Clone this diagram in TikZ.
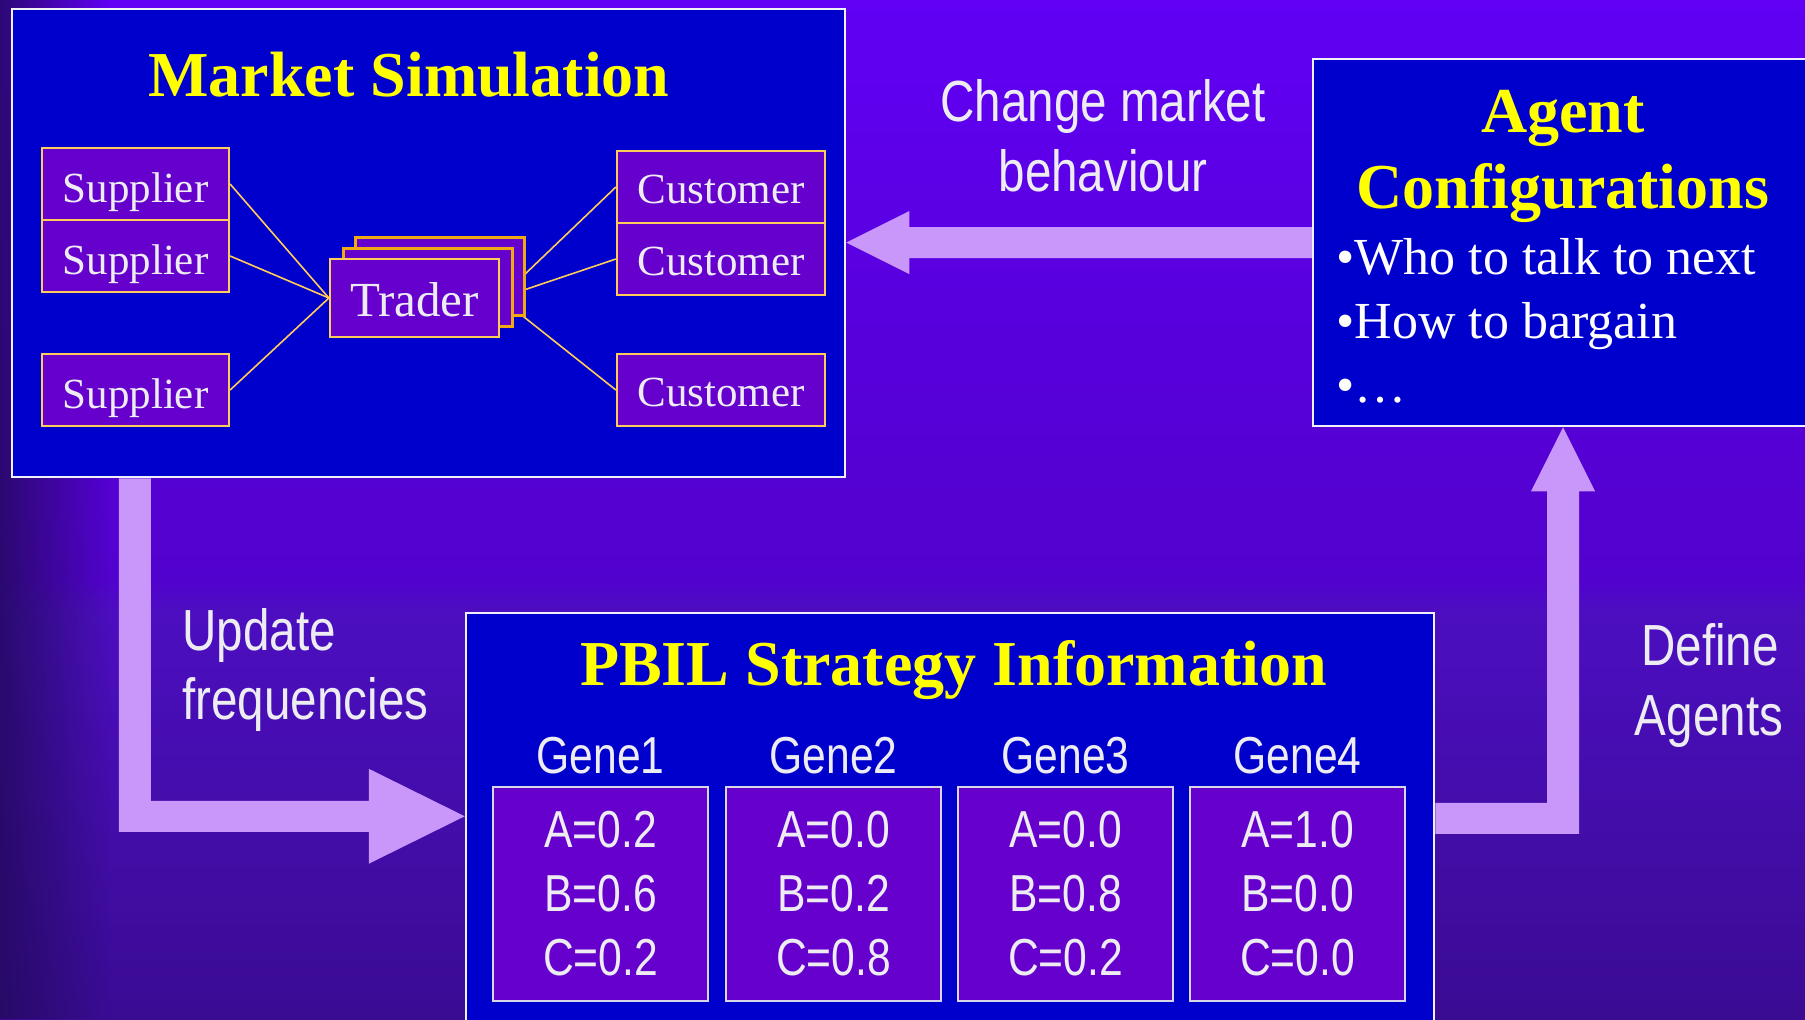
\documentclass[tikz,border=0pt]{standalone}
\usepackage{fontspec}
\setmainfont{Liberation Serif}
\newfontfamily\sansn[FakeStretch=0.82]{Liberation Sans}
\usetikzlibrary{calc,fadings}
\definecolor{boxblue}{RGB}{0,0,204}
\definecolor{inpurple}{RGB}{102,0,204}
\definecolor{gold}{RGB}{255,204,90}
\definecolor{goldd}{RGB}{240,168,20}
\definecolor{boxline}{RGB}{240,240,250}
\definecolor{genel}{RGB}{215,215,232}
\definecolor{txtgray}{RGB}{236,236,242}
\definecolor{arrowc}{RGB}{201,150,250}
\definecolor{titley}{RGB}{255,255,0}
\definecolor{stripc}{RGB}{36,10,96}
\definecolor{bg0}{RGB}{36,10,95}
\definecolor{bg1}{RGB}{46,10,118}
\definecolor{bg2}{RGB}{58,12,148}
\definecolor{bg3}{RGB}{76,14,192}
\definecolor{bg4}{RGB}{82,2,205}
\definecolor{bg5}{RGB}{88,0,220}
\definecolor{bg6}{RGB}{97,0,245}
\definecolor{bg7}{RGB}{102,0,255}
\pgfdeclareverticalshading{bgshade}{100bp}{color(0bp)=(bg0); color(13.6bp)=(bg1); color(25.4bp)=(bg2); color(45bp)=(bg3); color(46.5bp)=(bg4); color(58.8bp)=(bg5); color(75.5bp)=(bg6); color(100bp)=(bg7)}
\tikzfading[name=fadeRight, left color=transparent!15, right color=transparent!100]
\pgfdeclarelayer{background}
\pgfdeclarelayer{lines}
\pgfsetlayers{background,lines,main}
\tikzset{
  bigbox/.style={draw=boxline, line width=1.25pt, fill=boxblue, inner sep=0pt, rectangle},
  goldbox/.style={draw=gold, line width=1.1pt, fill=inpurple, inner sep=0pt, text=txtgray,
    font=\fontsize{21.5}{26}\selectfont, minimum height=36pt, text depth=0pt},
  supbox/.style={goldbox, minimum width=93.5pt, text height=18pt},
  custbox/.style={goldbox, minimum width=104pt, text height=16pt},
  trbox/.style={goldbox, minimum width=84.5pt, minimum height=39pt, font=\fontsize{24.5}{29}\selectfont},
  genebox/.style={draw=genel, line width=1pt, fill=inpurple, inner sep=0pt, align=center, text=txtgray,
    font=\sansn\fontsize{26}{32}\selectfont, minimum width=107.5pt, minimum height=107pt},
  genelbl/.style={font=\sansn\fontsize{26}{32}\selectfont, text=txtgray, anchor=base, inner sep=0pt},
  titlet/.style={font=\bfseries\fontsize{32}{38}\selectfont, text=titley, anchor=base, inner sep=0pt},
  sanslbl/.style={font=\sansn\fontsize{29}{35}\selectfont, text=txtgray, anchor=base, inner sep=0pt},
  bullett/.style={font=\fontsize{26}{32}\selectfont, text=white, anchor=base west, inner sep=0pt},
  conn/.style={draw=gold, line width=0.8pt},
  blockarrow/.style={fill=arrowc}
}
\begin{document}
\begin{tikzpicture}[x=0.5pt,y=-0.5pt]
\useasboundingbox (0,0) rectangle (1805,1019);
\begin{pgfonlayer}{background}
  \shade[shading=bgshade] (0,0) rectangle (1805,1019);
  \fill[stripc, path fading=fadeRight] (0,0) rectangle (110,1019);
  % big boxes
  \node[bigbox, minimum width=416.5pt, minimum height=234pt] (market) at (428.5,243) {};
  \node[bigbox, minimum width=250pt, minimum height=183.5pt] (agent) at (1563,242.5) {};
  \node[bigbox, minimum width=484pt, minimum height=213.5pt] (pbil) at (950,826.5) {};
  % arrow: agent -> market
  \coordinate (t1) at (market.east |- agent.west);
  \fill[blockarrow] ($(agent.west)+(0,-15.5)$) -- ($(t1)+(63,-15.5)$) -- ($(t1)+(63,-31.5)$) -- (t1)
     -- ($(t1)+(63,31.5)$) -- ($(t1)+(63,15.5)$) -- ($(agent.west)+(0,15.5)$) -- cycle;
  % arrow: market -> pbil
  \coordinate (t2) at ($(pbil.north west)+(0,204.5)$);
  \fill[blockarrow] ($(market.south west)+(108,0)$) |- ($(t2)+(-96,15.5)$) -- ($(t2)+(-96,47.5)$) -- (t2)
     -- ($(t2)+(-96,-47.5)$) -- ($(t2)+(-96,-15.5)$) -| ($(market.south west)+(140,0)$) -- cycle;
  % arrow: pbil -> agent
  \coordinate (t3) at (agent.south);
  \coordinate (a3) at ($(pbil.north east)+(0,191)$);
  \coordinate (b3) at ($(pbil.north east)+(0,222)$);
  \fill[blockarrow] (a3) -- ($(a3 -| t3)+(-16,0)$) -- ($(t3)+(-16,64)$) -- ($(t3)+(-32,64)$)
     -- (t3) -- ($(t3)+(32,64)$) -- ($(t3)+(16,64)$) -- ($(b3 -| t3)+(16,0)$) -- (b3) -- cycle;
\end{pgfonlayer}

% Market simulation contents
\node[titlet] (mtitle) at (409,96) {Market Simulation};
\node[supbox] (s1) at (135.5,184) {Supplier};
\node[supbox] (s2) at (135.5,256) {Supplier};
\node[supbox] (s3) at (135.5,390) {Supplier};
\node[custbox] (c1) at (721,187) {Customer};
\node[custbox] (c2) at (721,259) {Customer};
\node[custbox] (c3) at (721,390) {Customer};
\node[trbox, draw=goldd] (tr3) at (440,276.5) {};
\node[trbox, draw=goldd] (tr2) at (428,287.5) {};
\node[trbox, text height=18pt] (tr1) at (414.5,298) {Trader};
\begin{pgfonlayer}{lines}
  \foreach \s in {s1,s2,s3} \draw[conn] (\s.east) -- (tr1.west);
  \foreach \c in {c1,c2,c3} \draw[conn] (tr1.east) -- (\c.west);
\end{pgfonlayer}

% Agent configurations
\node[titlet] (atitle1) at (1563,132) {Agent};
\node[titlet] (atitle2) at (1563,208) {Configurations};
\node[bullett] (b1) at (1336,274) {•Who to talk to next};
\node[bullett] (b2) at (1336,338) {•How to bargain};
\node[bullett] (b3) at (1336,402) {•…};

% arrow labels
\node[sanslbl] (lc1) at (1103,121) {Change market};
\node[sanslbl] (lc2) at (1103,191) {behaviour};
\node[sanslbl, anchor=base west] (lu1) at (182,650) {Update};
\node[sanslbl, anchor=base west] (lu2) at (182,719) {frequencies};
\node[sanslbl] (ld1) at (1710,665) {Define};
\node[sanslbl] (ld2) at (1709,735) {Agents};

% PBIL
\node[titlet] (ptitle) at (953.5,685) {PBIL Strategy Information};
\node[genelbl] (gl1) at (600.5,773) {Gene1};
\node[genelbl] (gl2) at (833.5,773) {Gene2};
\node[genelbl] (gl3) at (1065.5,773) {Gene3};
\node[genelbl] (gl4) at (1297.5,773) {Gene4};
\node[genebox] (g1) at (600.5,894) {A=0.2\\B=0.6\\C=0.2};
\node[genebox] (g2) at (833.5,894) {A=0.0\\B=0.2\\C=0.8};
\node[genebox] (g3) at (1065.5,894) {A=0.0\\B=0.8\\C=0.2};
\node[genebox] (g4) at (1297.5,894) {A=1.0\\B=0.0\\C=0.0};
\end{tikzpicture}
\end{document}
